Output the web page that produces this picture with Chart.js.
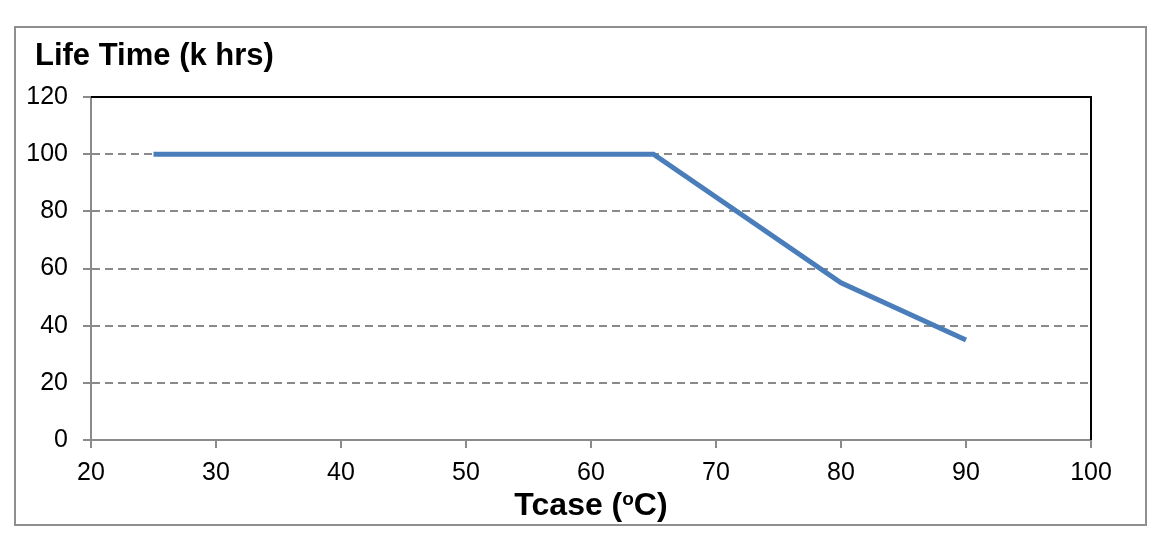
<!DOCTYPE html>
<html>
<head>
<meta charset="utf-8">
<script src="https://cdn.jsdelivr.net/npm/chart.js@4"></script>
<style>
  body { margin: 0; background: #fff; }
  #wrap { width: 1168px; height: 554px; position: relative; }
</style>
</head>
<body>
<div id="wrap"><canvas id="vida"></canvas></div>
<script>
// datos
const tcase = [25, 65, 80, 90];
const lifeTime = [100, 100, 55, 35];
const yTitle = "Life Time (k hrs)";
const xTitle = ["Tcase (", "o", "C)"];

const puntos = tcase.map((t, i) => ({ x: t, y: lifeTime[i] }));
const gris = "#8a8a8a";

// marco exterior, borde negro arriba/derecha y titulos
const marco = {
    id: "marco",
    afterDraw(chart) {
        const ctx = chart.ctx;
        const a = chart.chartArea;
        ctx.save();
        ctx.strokeStyle = "#8f8f8f";
        ctx.lineWidth = 2;
        ctx.strokeRect(15, 27, 1131, 498);
        // borde negro
        ctx.strokeStyle = "#000";
        ctx.lineWidth = 2;
        ctx.beginPath();
        ctx.moveTo(a.left, a.top);
        ctx.lineTo(a.right, a.top);
        ctx.lineTo(a.right, a.bottom);
        ctx.stroke();
        // titulo eje y
        ctx.fillStyle = "#000";
        ctx.textBaseline = "alphabetic";
        ctx.textAlign = "left";
        ctx.font = "bold 31px 'Liberation Sans', Arial";
        ctx.fillText(yTitle, 35, 65);
        // titulo eje x con superindice
        const big = "bold 32px 'Liberation Sans', Arial";
        const small = "bold 19px 'Liberation Sans', Arial";
        ctx.font = big;
        const w1 = ctx.measureText(xTitle[0]).width;
        const w3 = ctx.measureText(xTitle[2]).width;
        ctx.font = small;
        const w2 = ctx.measureText(xTitle[1]).width;
        let x = (a.left + a.right) / 2 - (w1 + w2 + w3) / 2;
        const base = 515;
        ctx.font = big;
        ctx.fillText(xTitle[0], x, base);
        x += w1;
        ctx.font = small;
        ctx.fillText(xTitle[1], x, base - 10);
        x += w2;
        ctx.font = big;
        ctx.fillText(xTitle[2], x, base);
        ctx.restore();
    }
};

new Chart(document.getElementById("vida").getContext("2d"), {
    type: "line",
    data: {
        datasets: [
            {
                label: yTitle,
                data: puntos,
                borderColor: "#4a7ebb",
                borderWidth: 5,
                pointRadius: 0,
                tension: 0,
                fill: false
            }
        ]
    },
    options: {
        responsive: true,
        maintainAspectRatio: false,
        animation: false,
        layout: {
            padding: { left: 15, top: 97, right: 77, bottom: 0 }
        },
        plugins: {
            legend: { display: false },
            title: { display: false },
            tooltip: { enabled: false }
        },
        scales: {
            x: {
                type: "linear",
                min: 20,
                max: 100,
                ticks: {
                    stepSize: 10,
                    color: "#000",
                    padding: 10,
                    font: { family: "'Liberation Sans', Arial", size: 25 }
                },
                grid: {
                    drawOnChartArea: false,
                    drawTicks: true,
                    tickLength: 8,
                    tickColor: gris,
                    lineWidth: 2
                },
                border: { color: gris, width: 2 },
                afterFit: (s) => { s.height = 114; }
            },
            y: {
                min: 0,
                max: 120,
                ticks: {
                    stepSize: 20,
                    color: "#000",
                    padding: 15,
                    font: { family: "'Liberation Sans', Arial", size: 25 }
                },
                grid: {
                    color: (c) => (c.tick && (c.tick.value === 0 || c.tick.value === 120)) ? "rgba(0,0,0,0)" : gris,
                    tickColor: gris,
                    lineWidth: 2,
                    tickLength: 8,
                    tickBorderDash: []
                },
                border: { color: gris, width: 2, dash: [8, 5] },
                afterFit: (s) => { s.width = 76; }
            }
        }
    },
    plugins: [marco]
});
</script>
</body>
</html>
